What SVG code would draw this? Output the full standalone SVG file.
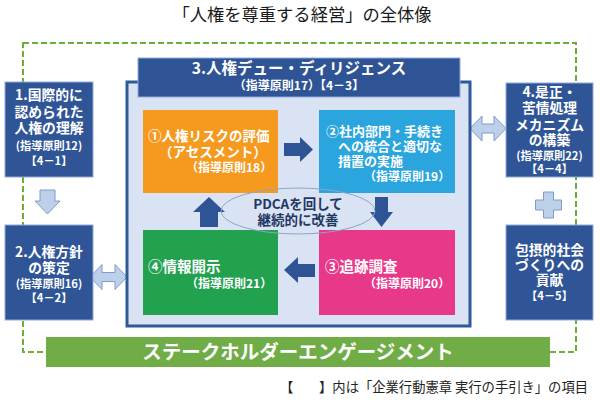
<svg xmlns="http://www.w3.org/2000/svg" width="600" height="400" viewBox="0 0 600 400">
<style>
text{font-family:"Noto Sans CJK JP","Noto Sans",sans-serif}
.w{fill:#fff;font-weight:bold}
.side{fill:#2f5597;stroke:#8faadc;stroke-width:1}
.sd{font-size:13.8px;text-anchor:middle}
.sm{font-size:11.2px;text-anchor:middle}
.la{fill:#bdd0ea;stroke:#7f9cc9;stroke-width:1}
.da{fill:#2f5496}
.g{font-size:13.5px}
.s{font-size:12px}
</style>
<rect x="23" y="43" width="553" height="309" fill="none" stroke="#6aaf3a" stroke-width="2" stroke-dasharray="6 3"/>
<text x="302" y="21" font-size="17.3" fill="#1a1a1a" text-anchor="middle">「人権を尊重する経営」の全体像</text>

<g id="connectors">
<path class="la" d="M40,190 H55 V201 H60 L47.5,214 L35,201 H40 Z"/>
<path class="la" d="M90,277 L102,264.5 V272.5 H115 V264.5 L127,277 L115,289.5 V281.5 H102 V289.5 Z"/>
<path class="la" d="M470,128.5 L482,116 V124 H494 V116 L506,128.5 L494,141 V133 H482 V141 Z"/>
<path class="la" d="M543.5,192 H553.5 V200 H561.5 V210 H553.5 V218 H543.5 V210 H535.5 V200 H543.5 Z"/>
</g>

<g id="n1">
<rect class="side" x="5" y="82" width="88" height="95"/>
<text class="w sd" x="49" y="100">1.国際的に</text>
<text class="w sd" x="49" y="116.5">認められた</text>
<text class="w sd" x="49" y="133">人権の理解</text>
<text class="w sm" x="49" y="149.5">(指導原則12)</text>
<text class="w sm" x="49" y="165">【4－1】</text>
</g>
<g id="n2">
<rect class="side" x="5" y="225" width="88" height="95"/>
<text class="w sd" x="49" y="257">2.人権方針</text>
<text class="w sd" x="49" y="272.5">の策定</text>
<text class="w sm" x="49" y="287.5">(指導原則16)</text>
<text class="w sm" x="49" y="301.5">【4－2】</text>
</g>
<g id="n4">
<rect class="side" x="506" y="83" width="87" height="94"/>
<text class="w sd" x="549.5" y="97">4.是正・</text>
<text class="w sd" x="549.5" y="113">苦情処理</text>
<text class="w sd" x="549.5" y="129.5">メカニズム</text>
<text class="w sd" x="549.5" y="145">の構築</text>
<text class="w sm" x="549.5" y="159.5">(指導原則22)</text>
<text class="w sm" x="549.5" y="173">【4－4】</text>
</g>
<g id="n5">
<rect class="side" x="506" y="225" width="87" height="95"/>
<text class="w sd" x="549.5" y="255">包摂的社会</text>
<text class="w sd" x="549.5" y="270">づくりへの</text>
<text class="w sd" x="549.5" y="285">貢献</text>
<text class="w sm" x="549.5" y="300">【4－5】</text>
</g>

<g id="n3">
<rect x="127" y="82" width="343" height="244" fill="#dae3f3" stroke="#2e5b98" stroke-width="3"/>
<rect x="138" y="58" width="322" height="39" fill="#2f5496" stroke="#8faadc" stroke-width="1"/>
<text class="w" x="299" y="74" font-size="15.5" text-anchor="middle">3.人権デュー・ディリジェンス</text>
<text class="w" x="299" y="90" font-size="12" text-anchor="middle">（指導原則17）【4－3】</text>
</g>

<g id="s1">
<rect x="143" y="110" width="135" height="83" fill="#f59a1f"/>
<text class="w g" x="148" y="140.5">①人権リスクの評価</text>
<text class="w g" x="159" y="156.5">（アセスメント）</text>
<text class="w s" x="186" y="172">（指導原則18）</text>
</g>
<g id="s2">
<rect x="319" y="110" width="136" height="83" fill="#2aa5dd"/>
<text class="w" font-size="13" x="326" y="136">②社内部門・手続き</text>
<text class="w" font-size="13" x="338" y="151">への統合と適切な</text>
<text class="w" font-size="13" x="338" y="165.5">措置の実施</text>
<text class="w s" x="364" y="180.5">（指導原則19）</text>
</g>
<g id="s4">
<rect x="143" y="230" width="135" height="85" fill="#22a24f"/>
<text class="w" font-size="14.5" x="148" y="272">④情報開示</text>
<text class="w s" x="186" y="287.5">（指導原則21）</text>
</g>
<g id="s3">
<rect x="319" y="230" width="136" height="85" fill="#e8388a"/>
<text class="w" font-size="14.5" x="325" y="272">③追跡調査</text>
<text class="w s" x="364" y="287.5">（指導原則20）</text>
</g>

<g id="cycle">
<path class="da" d="M284,143 H300 V137 L313,149.5 L300,162 V156 H284 Z"/>
<path class="da" d="M375,197 H388 V212 H393 L381.5,227 L370,212 H375 Z"/>
<path class="da" d="M284,270 L298,257 V264 H315 V277 H298 V283 Z"/>
<path class="da" d="M209,197 L225,212 H218 V227 H200 V212 H193 Z"/>
</g>
<g id="pdca">
<ellipse cx="298" cy="211" rx="77" ry="23" fill="none" stroke="#8ea4c8" stroke-width="1"/>
<text x="298" y="208.5" font-size="13.5" font-weight="bold" fill="#1f3864" text-anchor="middle">PDCAを回して</text>
<text x="298" y="224.5" font-size="13.5" font-weight="bold" fill="#1f3864" text-anchor="middle">継続的に改善</text>
</g>

<g id="engagement">
<rect x="46" y="337" width="504" height="30" fill="#70ad47"/>
<text class="w" x="298" y="359" font-size="19.5" text-anchor="middle">ステークホルダーエンゲージメント</text>
</g>

<text font-size="13.3" fill="#222"><tspan x="280" y="392">【</tspan><tspan x="588" y="392" text-anchor="end">】内は「企業行動憲章 実行の手引き」の項目</tspan></text>
</svg>
